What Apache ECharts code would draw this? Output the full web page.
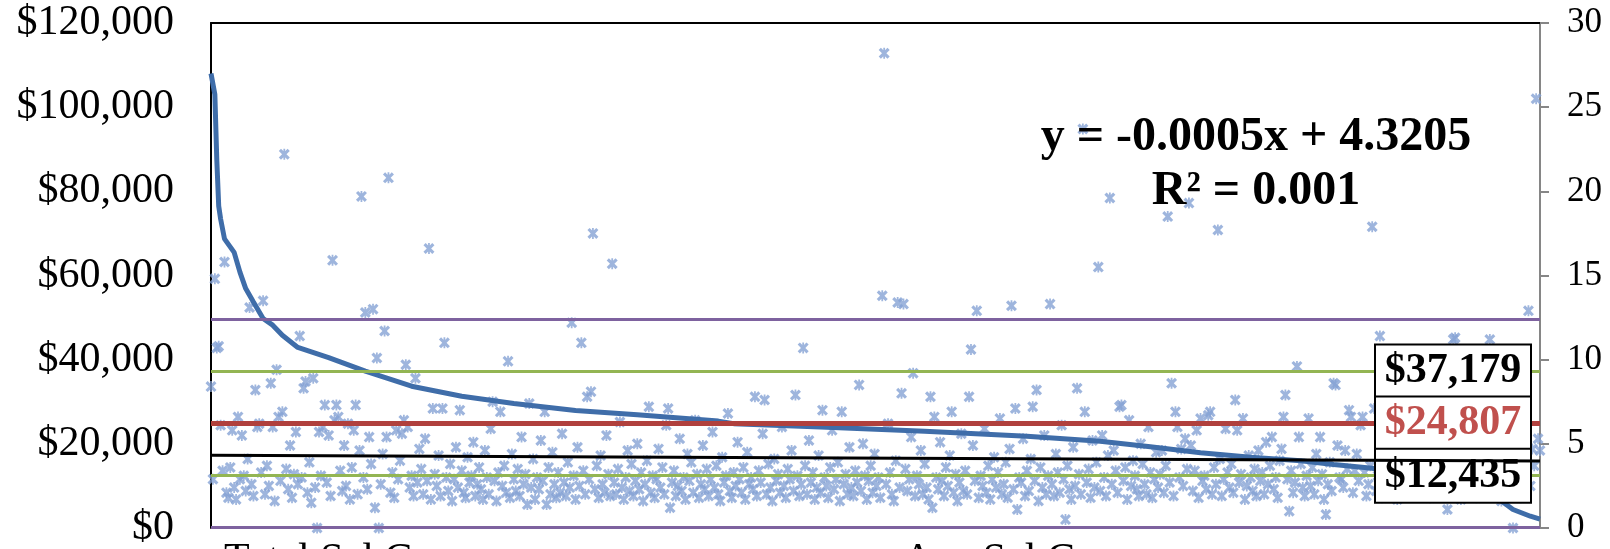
<!DOCTYPE html>
<html>
<head>
<meta charset="utf-8">
<script src="https://cdn.jsdelivr.net/npm/echarts@6/dist/echarts.min.js"></script>
<style>
  html, body { margin: 0; padding: 0; background: #fff; }
  #myChart { width: 1610px; height: 549px; }
</style>
</head>
<body>
<div id="myChart"></div>
<script>
// sorted total salary cost (left axis), sampled along the record index
const salaryIdx = [0, 2, 3, 4, 5, 7, 12, 15, 18, 22, 27, 32, 37, 45, 61, 80, 104, 130, 157, 189, 221, 263, 271, 316, 370, 423, 461, 487, 513, 539, 565, 582, 602, 627, 653, 668, 675, 684, 689];
const salaryVals = [108000, 103000, 87500, 76500, 73400, 68700, 65500, 60800, 56900, 53700, 49800, 48200, 45800, 42900, 40500, 37300, 33700, 31300, 29600, 27900, 26900, 25400, 24800, 24000, 23000, 21800, 20600, 19300, 17900, 16800, 16000, 15100, 14200, 12500, 9500, 6800, 4400, 2800, 2100];

// average salary cost per record (right axis), one value per record
const avgVals = [
  8.4, 2.9, 14.8, 10.7, 10.8, 6.1, 3.4, 15.8, 2.1, 1.8,
  3.6, 5.8, 2.4, 1.7, 6.6, 2.9, 5.5, 3.1, 2.2, 4.1,
  13.1, 2.6, 1.9, 8.2, 6.0, 6.2, 3.3, 13.5, 2.0, 3.7,
  2.5, 8.6, 6.0, 1.6, 9.4, 6.6, 2.8, 6.9, 22.2, 3.5,
  2.3, 4.9, 1.8, 3.2, 5.7, 2.6, 11.4, 3.0, 8.3, 8.7,
  2.1, 3.9, 1.5, 8.9, 2.4, 0.0, 5.7, 3.1, 6.0, 7.3,
  2.7, 5.5, 1.9, 15.9, 6.4, 7.3, 6.6, 3.4, 2.2, 4.9,
  2.5, 6.2, 1.7, 3.6, 5.8, 7.3, 2.0, 4.6, 19.7, 3.0,
  12.8, 2.3, 5.4, 3.8, 13.0, 1.2, 10.1, 0.0, 2.6, 4.4,
  11.7, 5.4, 20.8, 2.1, 3.3, 1.8, 5.8, 2.9, 4.0, 5.6,
  6.4, 9.7, 6.0, 2.4, 3.1, 1.9, 8.9, 2.7, 4.7, 3.5,
  2.0, 5.3, 2.8, 16.6, 1.7, 7.1, 3.2, 2.5, 4.3, 1.9,
  7.1, 11.0, 3.0, 2.2, 3.8, 1.6, 2.9, 4.8, 2.4, 7.0,
  3.4, 2.1, 1.8, 4.2, 2.7, 3.1, 5.1, 1.9, 2.6, 3.6,
  2.3, 1.7, 4.6, 3.0, 2.0, 5.9, 7.5, 2.8, 1.6, 3.3,
  6.9, 2.5, 3.7, 2.1, 9.9, 1.8, 4.4, 2.9, 2.2, 3.5,
  1.9, 5.4, 2.6, 3.2, 1.4, 7.4, 2.4, 4.1, 1.7, 3.0,
  2.3, 5.2, 2.8, 6.9, 1.4, 3.6, 2.0, 4.5, 2.6, 1.8,
  3.3, 2.1, 5.6, 2.7, 1.9, 3.9, 2.4, 12.2, 3.1, 1.7,
  4.8, 2.5, 11.0, 3.4, 2.0, 7.8, 2.9, 8.1, 17.5, 2.3,
  3.7, 1.8, 4.3, 2.6, 2.1, 5.5, 3.2, 1.9, 15.7, 2.7,
  2.0, 3.5, 6.3, 2.4, 1.7, 3.0, 4.6, 2.2, 3.8, 1.9,
  2.8, 5.0, 2.3, 3.3, 1.6, 2.6, 4.0, 7.2, 2.1, 3.1,
  1.8, 2.9, 4.7, 2.4, 3.6, 2.0, 6.1, 7.1, 1.2, 2.7,
  3.4, 1.9, 2.5, 5.3, 2.2, 3.0, 1.7, 4.4, 2.8, 3.9,
  2.1, 6.4, 3.2, 1.8, 2.6, 4.9, 2.3, 3.5, 1.9, 2.9,
  5.7, 2.4, 3.7, 2.0, 1.6, 4.2, 2.7, 3.1, 6.8, 2.2,
  1.8, 3.3, 2.5, 5.1, 2.9, 2.1, 3.6, 1.7, 4.5, 2.6,
  3.0, 2.3, 7.8, 1.9, 3.4, 2.7, 5.6, 7.6, 2.0, 3.8,
  2.4, 1.6, 4.1, 2.8, 3.2, 2.1, 6.0, 2.5, 1.8, 3.5,
  2.9, 4.6, 2.2, 7.9, 3.1, 1.9, 2.6, 10.7, 3.7, 2.0,
  5.2, 2.7, 3.3, 1.7, 2.4, 4.3, 2.1, 7.0, 3.0, 2.5,
  1.8, 3.6, 5.8, 2.3, 2.9, 3.9, 1.6, 6.9, 2.6, 3.2,
  2.0, 4.8, 2.4, 1.9, 3.4, 2.7, 8.5, 2.2, 5.0, 3.1,
  1.7, 2.8, 3.7, 2.1, 4.4, 2.5, 3.0, 1.8, 13.8, 28.2,
  2.6, 6.2, 3.3, 2.0, 1.6, 4.0, 13.4, 2.4, 8.0, 13.3,
  3.5, 2.2, 2.9, 5.4, 9.2, 1.9, 3.1, 2.6, 4.6, 2.0,
  3.8, 2.4, 1.7, 7.8, 1.2, 6.6, 3.0, 2.3, 5.1, 2.8,
  1.9, 3.6, 2.5, 4.3, 6.9, 2.1, 3.2, 1.6, 2.7, 5.6,
  2.2, 3.4, 2.0, 7.8, 10.6, 4.9, 2.8, 12.9, 1.8, 3.1,
  2.5, 5.9, 2.1, 3.7, 1.7, 2.9, 4.2, 2.4, 3.3, 6.5,
  2.0, 2.6, 3.9, 1.8, 4.7, 13.2, 2.3, 7.1, 1.1, 3.0,
  2.7, 5.3, 1.9, 3.4, 2.2, 4.1, 7.2, 2.8, 8.2, 1.6,
  3.6, 2.4, 5.5, 2.0, 3.1, 13.3, 2.6, 1.9, 4.4, 3.3,
  2.1, 6.1, 2.9, 0.5, 3.7, 2.3, 1.7, 4.8, 2.5, 8.3,
  3.2, 2.0, 23.7, 6.9, 2.7, 3.5, 1.8, 5.2, 2.4, 3.9,
  15.5, 2.2, 5.5, 3.0, 1.9, 4.3, 19.6, 2.6, 4.6, 3.4,
  2.1, 7.2, 7.3, 2.8, 3.6, 1.7, 6.4, 2.5, 4.0, 3.1,
  2.3, 1.9, 5.0, 3.8, 2.6, 2.0, 6.0, 3.3, 1.8, 2.9,
  4.5, 2.4, 3.2, 4.6, 2.1, 3.7, 18.5, 2.7, 8.6, 1.9,
  6.9, 6.0, 3.0, 4.7, 2.5, 5.3, 3.5, 19.3, 4.9, 2.2,
  3.4, 5.8, 1.8, 6.5, 2.8, 3.1, 2.3, 6.7, 6.9, 2.0,
  3.6, 2.6, 17.7, 4.1, 1.9, 2.9, 5.9, 3.3, 2.4, 3.8,
  2.1, 7.6, 5.8, 2.7, 3.2, 6.5, 1.7, 2.5, 4.3, 3.0,
  2.2, 3.5, 1.9, 4.6, 2.8, 3.3, 2.0, 5.1, 2.6, 3.7,
  5.4, 2.3, 3.0, 1.8, 4.0, 4.7, 6.6, 7.9, 2.9, 1.0,
  3.4, 2.1, 2.7, 9.6, 5.4, 3.8, 2.4, 1.9, 3.1, 6.5,
  2.5, 3.6, 2.0, 4.4, 2.8, 5.4, 3.2, 1.7, 0.8, 2.6,
  3.9, 2.2, 8.6, 8.5, 4.9, 3.0, 2.9, 2.4, 4.6, 3.5,
  7.0, 6.6, 2.1, 3.4, 4.4, 2.8, 6.1, 6.6, 3.3, 1.9,
  2.6, 3.7, 17.9, 7.1, 2.2, 3.1, 11.4, 1.8, 4.2, 2.9,
  2.4, 3.5, 5.0, 2.0, 3.9, 1.7, 2.7, 4.6, 3.2, 2.3,
  1.9, 3.0, 4.1, 2.5, 3.6, 2.1, 3.0, 2.8, 2.8, 3.4,
  5.3, 2.2, 1.8, 3.8, 2.6, 4.5, 2.0, 3.1, 2.4, 6.2,
  3.3, 1.1, 2.7, 4.0, 11.2, 11.3, 3.6, 2.9, 1.7, 5.6,
  2.5, 3.9, 2.0, 4.8, 2.8, 3.2, 1.8, 6.4, 2.3, 3.5,
  2.6, 4.2, 1.9, 11.2, 3.0, 2.4, 5.1, 3.7, 2.1, 1.6,
  3.4, 2.7, 4.5, 2.6, 3.3, 0.0, 3.1, 2.2, 4.0, 1.8,
  2.9, 3.6, 4.3, 12.9, 2.5, 4.7, 3.7, 25.5, 5.3, 4.6
];

// reference lines: mean, mean +/- 1 sd, mean +/- 2 sd
const refLines = [49551, 37179, 24807, 12435, 63];
const refColors = ['#7E629F', '#93B553', '#B0403D', '#93B553', '#7E629F'];
const refWidths = [3, 3, 5, 3, 3];
const refLabels = ['', '$37,179', '$24,807', '$12,435', ''];
const refLabelColors = ['#000', '#000', '#C0504D', '#000', '#000'];

// linear trend of the average cost: y = -0.0005x + 4.3205
const trendSlope = -0.0005;
const trendIntercept = 4.3205;
const lastIdx = avgVals.length - 1;

const serif = '"Liberation Serif", "Times New Roman", serif';
const xMarker = 'path://M0,2L2,0L5,3L8,0L10,2L7,5L10,8L8,10L5,7L2,10L0,8L3,5Z M4.2,0L5.8,0L5.8,10L4.2,10Z';

const chart = echarts.init(document.getElementById('myChart'));

const markData = refLines.map((v, i) => ({
  yAxis: v,
  lineStyle: { color: refColors[i], width: refWidths[i], type: 'solid' },
  label: refLabels[i] ? {
    show: true,
    position: 'end',
    distance: -87,
    formatter: refLabels[i],
    color: refLabelColors[i],
    fontFamily: serif,
    fontWeight: 'bold',
    fontSize: 42,
    align: 'center',
    verticalAlign: 'middle',
    width: 146,
    height: 50,
    lineHeight: 50,
    padding: [1, 4],
    backgroundColor: '#fff',
    borderColor: '#000',
    borderWidth: 2
  } : { show: false }
}));

const option = {
  animation: false,
  grid: { left: 211, right: 70, top: 23, bottom: 18 },
  xAxis: [
    {
      type: 'value', min: 0, max: lastIdx,
      axisLine: { show: false, onZero: false }, axisTick: { show: false },
      axisLabel: { show: false }, splitLine: { show: false }
    },
    {
      // top border of the plot
      type: 'value', position: 'top', min: 0, max: lastIdx,
      axisLine: { show: true, onZero: false, lineStyle: { color: '#000', width: 2 } },
      axisTick: { show: false }, axisLabel: { show: false }, splitLine: { show: false }
    }
  ],
  yAxis: [
    {
      type: 'value', min: 0, max: 120000, interval: 20000,
      axisLine: { show: true, onZero: false, lineStyle: { color: '#000', width: 2 } },
      axisTick: { show: false },
      splitLine: { show: false },
      axisLabel: {
        margin: 37,
        color: '#000',
        fontFamily: serif,
        fontSize: 42,
        formatter: v => '$' + v.toLocaleString('en-US')
      }
    },
    {
      type: 'value', position: 'right', min: 0, max: 30, interval: 5,
      axisLine: { show: true, onZero: false, lineStyle: { color: '#868686', width: 2 } },
      axisTick: { show: true, length: 9, lineStyle: { color: '#868686', width: 2 } },
      splitLine: { show: false },
      axisLabel: {
        margin: 27,
        color: '#000',
        fontFamily: serif,
        fontSize: 35
      }
    }
  ],
  series: [
    {
      name: 'Avg Sal Comp',
      type: 'scatter',
      yAxisIndex: 1,
      z: 2,
      symbol: xMarker,
      symbolSize: 11,
      itemStyle: { color: '#86A3D4' },
      data: avgVals.map((v, i) => [i, v])
    },
    {
      name: 'Total Sal Comp',
      type: 'line',
      yAxisIndex: 0,
      z: 3,
      showSymbol: false,
      lineStyle: { color: '#3F6DA9', width: 5 },
      data: salaryIdx.map((x, i) => [x, salaryVals[i]]),
      markLine: {
        silent: true,
        symbol: 'none',
        z: 5,
        data: markData
      }
    },
    {
      name: 'trend',
      type: 'line',
      yAxisIndex: 1,
      z: 8,
      showSymbol: false,
      lineStyle: { color: '#000', width: 3 },
      data: [[0, trendIntercept], [lastIdx, trendIntercept + trendSlope * lastIdx]]
    }
  ],
  graphic: [
    {
      type: 'text', x: 1256, y: 165, z: 20,
      style: {
        text: 'y = -0.0005x + 4.3205\nR\u00b2 = 0.001',
        font: 'bold 48px ' + serif,
        fill: '#000',
        textAlign: 'center',
        textVerticalAlign: 'middle',
        lineHeight: 54
      }
    },
    {
      type: 'text', x: 224, y: 540,
      style: { text: 'Total Sal Comp', font: '42px ' + serif, fill: '#000' }
    },
    {
      type: 'text', x: 903, y: 540,
      style: { text: 'Avg Sal Comp', font: '42px ' + serif, fill: '#000' }
    }
  ]
};

chart.setOption(option);
</script>
</body>
</html>
